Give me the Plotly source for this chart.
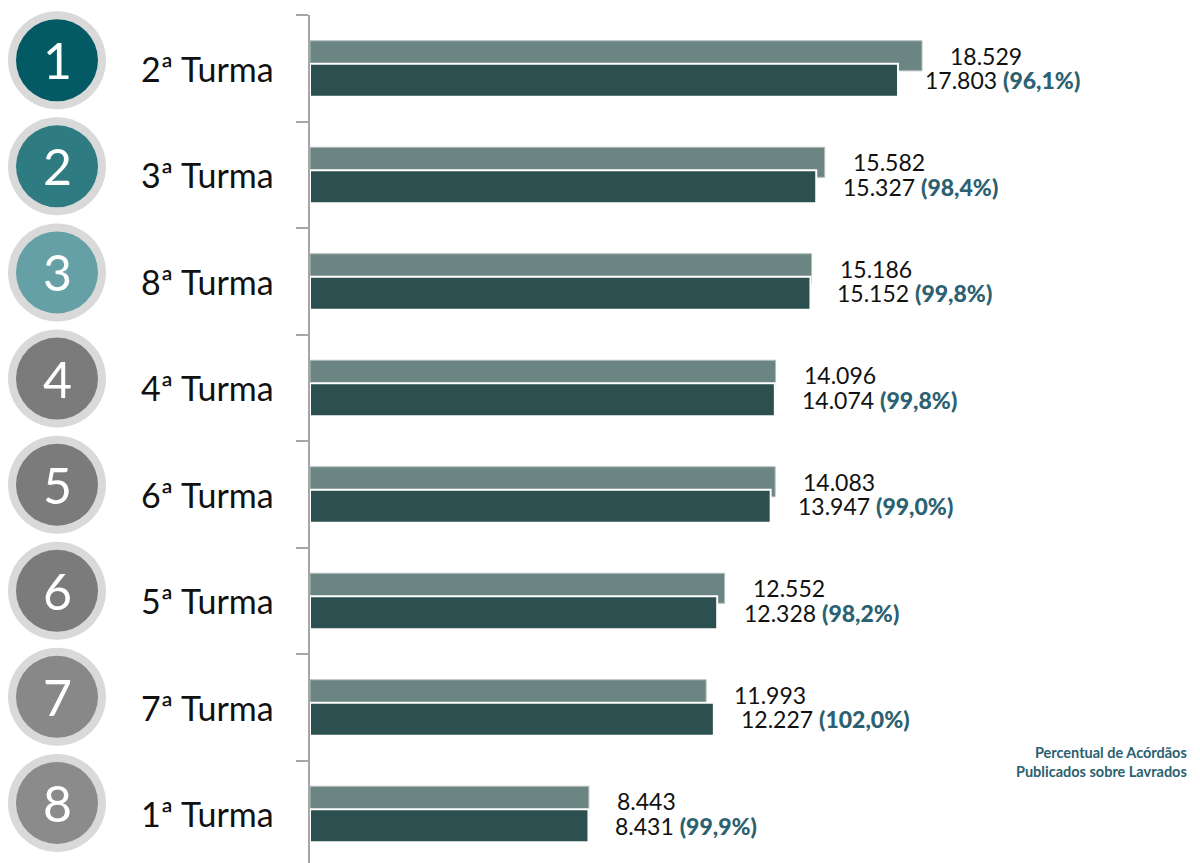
import plotly.graph_objects as go

# ---- data ----
categories = ["2ª Turma", "3ª Turma", "8ª Turma", "4ª Turma", "6ª Turma", "5ª Turma", "7ª Turma", "1ª Turma"]
ranks = ["1", "2", "3", "4", "5", "6", "7", "8"]
lavrados = [18529, 15582, 15186, 14096, 14083, 12552, 11993, 8443]
publicados = [17803, 15327, 15152, 14074, 13947, 12328, 12227, 8431]
percent_labels = ["96,1%", "98,4%", "99,8%", "99,8%", "99,0%", "98,2%", "102,0%", "99,9%"]
rank_colors = ["#045a64", "#2f7b82", "#64a0a6", "#7b7b7b", "#7b7b7b", "#7b7b7b", "#888888", "#8b8b8b"]


def fmt(v):
    return f"{v:,}".replace(",", ".")


FONT = "Lato, 'Open Sans', sans-serif"
LIGHT = "#6b8682"
DARK = "#2c4f4f"
PCT = "#2b6170"

pos = list(range(len(categories)))
PAGE_OFF = 8          # default page body margin
W = 1200 - PAGE_OFF
H = 863 - PAGE_OFF
ML, MT = 310 - PAGE_OFF, 15 - PAGE_OFF
plot_w = W - ML
plot_h = H - MT
band_px = 106.5

light_off = -0.117
dark_off = 0.113

fig = go.Figure()
fig.add_trace(go.Bar(
    y=pos, x=lavrados, orientation="h", width=0.282, offset=light_off - 0.141,
    marker=dict(color=LIGHT, line=dict(color="#b3bdbb", width=1)),
    hoverinfo="skip", showlegend=False,
))
fig.add_trace(go.Bar(
    y=pos, x=publicados, orientation="h", width=0.31, offset=dark_off - 0.155,
    marker=dict(color=DARK, line=dict(color="#ffffff", width=2)),
    hoverinfo="skip", showlegend=False,
))

annotations = []
shapes = []


def px_to_paper_x(px):
    # px measured in page coordinates
    return (px - PAGE_OFF - ML) / plot_w


def px_to_paper_y(py):
    # page y -> paper y (plot bottom sits at page y 863)
    return (863 - py) / plot_h


for i, cat in enumerate(categories):
    annotations.append(dict(
        x=lavrados[i], y=i + light_off, xref="x", yref="y", xanchor="left", yanchor="middle",
        xshift=26, text=fmt(lavrados[i]), showarrow=False,
        font=dict(family=FONT, size=23, color="#111111"),
    ))
    annotations.append(dict(
        x=publicados[i], y=i + dark_off, xref="x", yref="y", xanchor="left", yanchor="middle",
        xshift=25,
        text=f"{fmt(publicados[i])} <span style='color:{PCT};font-weight:900'>({percent_labels[i]})</span>",
        showarrow=False, font=dict(family=FONT, size=23, color="#111111"),
    ))
    annotations.append(dict(
        x=px_to_paper_x(276), y=i, xref="paper", yref="y", xanchor="right", yanchor="middle",
        text=cat, showarrow=False, font=dict(family=FONT, size=34, color="#111111"),
    ))
    # rank circle centre in page pixels
    cy_px = 15 + (i + 0.5) * band_px - 8.0 - 0.4 * i
    cx = 57
    shapes.append(dict(
        type="circle", xref="paper", yref="paper",
        x0=px_to_paper_x(cx - 49), x1=px_to_paper_x(cx + 49),
        y0=px_to_paper_y(cy_px + 49), y1=px_to_paper_y(cy_px - 49),
        fillcolor="#d9d9d9", line=dict(width=0), layer="above",
    ))
    shapes.append(dict(
        type="circle", xref="paper", yref="paper",
        x0=px_to_paper_x(cx - 41), x1=px_to_paper_x(cx + 41),
        y0=px_to_paper_y(cy_px + 41), y1=px_to_paper_y(cy_px - 41),
        fillcolor=rank_colors[i], line=dict(width=0), layer="above",
    ))
    annotations.append(dict(
        x=px_to_paper_x(cx), y=px_to_paper_y(cy_px), xref="paper", yref="paper",
        xanchor="center", yanchor="middle",
        text=ranks[i], showarrow=False, font=dict(family=FONT, size=50, color="#ffffff"),
    ))

annotations.append(dict(
    x=px_to_paper_x(1189), y=px_to_paper_y(762), xref="paper", yref="paper",
    xanchor="right", yanchor="middle", align="right",
    text="<b>Percentual de Acórdãos<br>Publicados sobre Lavrados</b>", showarrow=False,
    font=dict(family=FONT, size=14.5, color=PCT),
))

bottom = len(categories) - 0.5 - (len(categories) * band_px - plot_h) / band_px

fig.update_layout(
    width=W, height=H,
    margin=dict(l=ML, r=0, t=MT, b=0, autoexpand=False),
    paper_bgcolor="white", plot_bgcolor="white",
    barmode="overlay",
    xaxis=dict(visible=False, range=[0, plot_w / (612 / 18529)]),
    yaxis=dict(
        range=[bottom, -0.5], showgrid=False, zeroline=False, showticklabels=False,
        tickmode="array", tickvals=[p - 0.5 for p in pos] + [len(pos) - 0.5],
        ticks="outside", ticklen=12, tickwidth=2, tickcolor="#a6a6a6",
        showline=True, linecolor="#a6a6a6", linewidth=2,
    ),
    annotations=annotations, shapes=shapes,
)

fig.write_html("out.html")
